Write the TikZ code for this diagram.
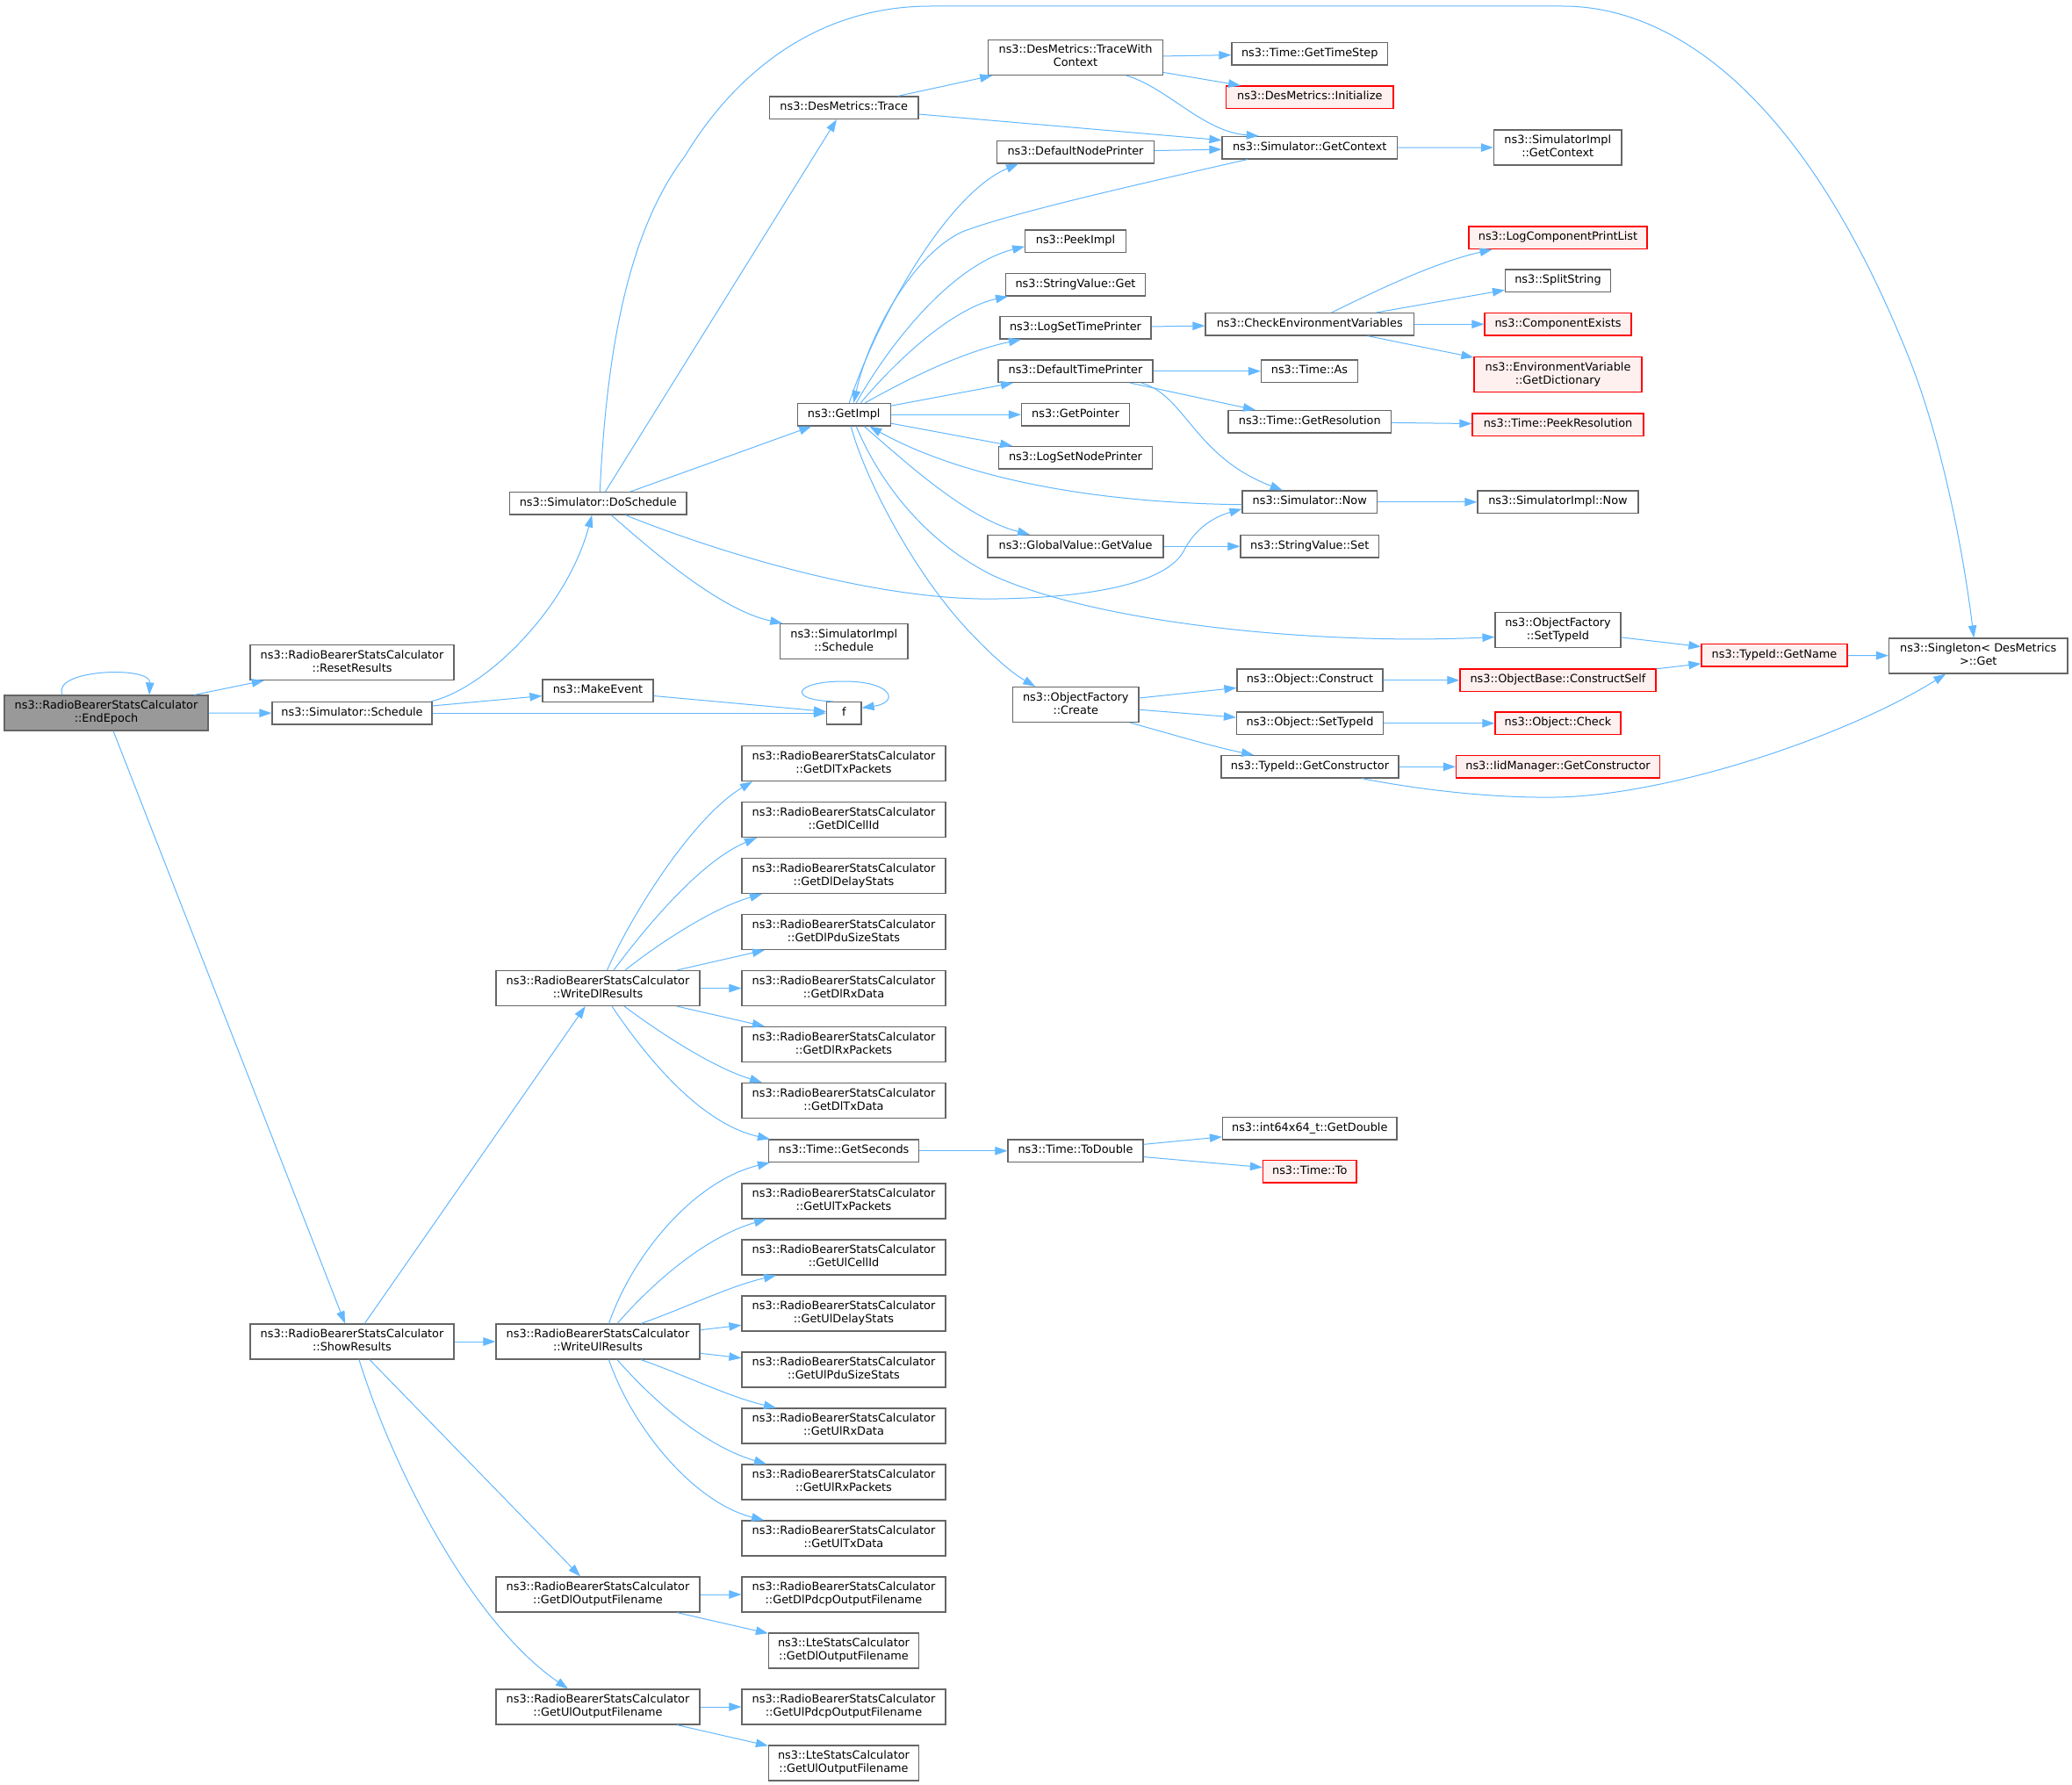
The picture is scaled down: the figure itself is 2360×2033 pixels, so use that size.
\documentclass[tikz,border=0pt]{standalone}
\usepackage{fontspec}
\newfontfamily\dvs{DejaVu Sans}
\usetikzlibrary{arrows.meta}
\definecolor{edgec}{HTML}{63B8FF}
\definecolor{boxc}{HTML}{666666}
\definecolor{rootf}{HTML}{999999}
\definecolor{redf}{HTML}{FFF0F0}
\definecolor{redc}{HTML}{FF0000}
\newcommand\bx[7][]{\node[box,#1,minimum width={(#5)-(#3)},minimum height={(#6)-(#4)}] (#2) at ({((#3)+(#5))/2},{((#4)+(#6))/2}) {#7};}
\newcommand\RB{ns3::RadioBearerStatsCalculator}
\tikzset{
 box/.style={draw=boxc, fill=white, line width=1.2pt, inner sep=0pt, align=center, font=\dvs\fontsize{12.85}{15}\selectfont},
 rbox/.style={draw=redc, fill=redf},
 root/.style={fill=rootf},
 conn/.style={draw=edgec, line width=1.0pt, -{Triangle[length=14pt,width=9.5pt]}}
}
\begin{document}
\begin{tikzpicture}[x=1pt,y=-1pt]
\fill[white] (0,0) rectangle (2360,2033);
\useasboundingbox (0,0) rectangle (2360,2033);
% nodes
\bx[root]{EndEpoch}{5}{792}{237}{832}{\strut\RB\\\strut ::EndEpoch}
\bx{ResetResults}{285}{734.5}{517}{774.5}{\strut\RB\\\strut ::ResetResults}
\bx{Schedule}{310}{799.5}{492}{825}{\strut ns3::Simulator::Schedule}
\bx{MakeEvent}{618}{774}{744}{799.5}{\strut ns3::MakeEvent}
\bx{f}{941.5}{799.5}{981}{825}{\strut f}
\bx{DoSchedule}{580.5}{560.5}{782}{586}{\strut ns3::Simulator::DoSchedule}
\bx{SimImplSchedule}{888.5}{710.5}{1034}{750.5}{\strut ns3::SimulatorImpl\\\strut ::Schedule}
\bx{Trace}{876.5}{110}{1046}{135.5}{\strut ns3::DesMetrics::Trace}
\bx{TWC}{1125.5}{45.5}{1324.5}{85.5}{\strut ns3::DesMetrics::TraceWith\\\strut Context}
\bx{GetTimeStep}{1403}{48.5}{1580.5}{74}{\strut ns3::Time::GetTimeStep}
\bx[rbox]{Initialize}{1396.5}{98}{1587}{123.5}{\strut ns3::DesMetrics::Initialize}
\bx{GetContext}{1392}{155.5}{1591.5}{181}{\strut ns3::Simulator::GetContext}
\bx{DNP}{1135.5}{160.5}{1314.5}{186}{\strut ns3::DefaultNodePrinter}
\bx{SIGetContext}{1701.5}{148}{1847}{188}{\strut ns3::SimulatorImpl\\\strut ::GetContext}
\bx{PeekImpl}{1167.75}{262}{1282.25}{287.5}{\strut ns3::PeekImpl}
\bx{SVGet}{1145.5}{311.5}{1304.5}{337}{\strut ns3::StringValue::Get}
\bx{LSTP}{1139}{360.5}{1311}{386}{\strut ns3::LogSetTimePrinter}
\bx{CheckEnv}{1373}{356.5}{1610.5}{382}{\strut ns3::CheckEnvironmentVariables}
\bx[rbox]{LCPL}{1673}{258}{1876}{283.5}{\strut ns3::LogComponentPrintList}
\bx{SplitString}{1714.5}{307}{1834.5}{332.5}{\strut ns3::SplitString}
\bx[rbox]{CompExists}{1691}{356.5}{1858}{382}{\strut ns3::ComponentExists}
\bx[rbox]{EnvDict}{1679}{406.5}{1870}{446.5}{\strut ns3::EnvironmentVariable\\\strut ::GetDictionary}
\bx{DTP}{1137}{410}{1313}{435.5}{\strut ns3::DefaultTimePrinter}
\bx{TimeAs}{1436.5}{410}{1546.5}{435.5}{\strut ns3::Time::As}
\bx{GetImpl}{908.25}{459.5}{1014.25}{485}{\strut ns3::GetImpl}
\bx{GetPointer}{1163.5}{459.5}{1286.5}{485}{\strut ns3::GetPointer}
\bx{GetRes}{1399}{467.5}{1584.5}{493}{\strut ns3::Time::GetResolution}
\bx[rbox]{PeekRes}{1677}{471}{1872}{496.5}{\strut ns3::Time::PeekResolution}
\bx{LSNP}{1137.5}{508.5}{1312.5}{534}{\strut ns3::LogSetNodePrinter}
\bx{SimNow}{1415}{559}{1568.5}{584.5}{\strut ns3::Simulator::Now}
\bx{SINow}{1683}{559}{1866}{584.5}{\strut ns3::SimulatorImpl::Now}
\bx{GVGV}{1125}{609.5}{1325}{635}{\strut ns3::GlobalValue::GetValue}
\bx{SVSet}{1413}{609.5}{1570.5}{635}{\strut ns3::StringValue::Set}
\bx{OFSetTypeId}{1703}{697.5}{1846}{737.5}{\strut ns3::ObjectFactory\\\strut ::SetTypeId}
\bx{Create}{1153.5}{782.5}{1297}{822.5}{\strut ns3::ObjectFactory\\\strut ::Create}
\bx{ObjConstruct}{1409}{762}{1575}{787.5}{\strut ns3::Object::Construct}
\bx{ObjSetTypeId}{1408.5}{811}{1575.5}{836.5}{\strut ns3::Object::SetTypeId}
\bx{GetCtor}{1391}{860.5}{1593}{886}{\strut ns3::TypeId::GetConstructor}
\bx[rbox]{GetName}{1938}{733.5}{2104}{759}{\strut ns3::TypeId::GetName}
\bx{Singleton}{2151.5}{727}{2355}{767}{\strut ns3::Singleton< DesMetrics\\\strut >::Get}
\bx[rbox]{ConstructSelf}{1663}{762}{1886}{787.5}{\strut ns3::ObjectBase::ConstructSelf}
\bx[rbox]{ObjCheck}{1703}{811}{1846}{836.5}{\strut ns3::Object::Check}
\bx[rbox]{IidCtor}{1658.5}{860.5}{1890.5}{886}{\strut ns3::IidManager::GetConstructor}
\bx{ToDouble}{1148}{1298}{1302}{1323.5}{\strut ns3::Time::ToDouble}
\bx{I64}{1392.5}{1272.5}{1591}{1298}{\strut ns3::int64x64\_t::GetDouble}
\bx[rbox]{TimeTo}{1438.5}{1321.5}{1545}{1347}{\strut ns3::Time::To}
\bx{WDR}{565}{1105.5}{797}{1145.5}{\strut\RB\\\strut ::WriteDlResults}
\bx{GDTP}{845}{849.5}{1077}{889.5}{\strut\RB\\\strut ::GetDlTxPackets}
\bx{GDCI}{845}{913.5}{1077}{953.5}{\strut\RB\\\strut ::GetDlCellId}
\bx{GDDS}{845}{977.5}{1077}{1017.5}{\strut\RB\\\strut ::GetDlDelayStats}
\bx{GDPS}{845}{1041.5}{1077}{1081.5}{\strut\RB\\\strut ::GetDlPduSizeStats}
\bx{GDRD}{845}{1105.5}{1077}{1145.5}{\strut\RB\\\strut ::GetDlRxData}
\bx{GDRP}{845}{1169.5}{1077}{1209.5}{\strut\RB\\\strut ::GetDlRxPackets}
\bx{GDTD}{845}{1233.5}{1077}{1273.5}{\strut\RB\\\strut ::GetDlTxData}
\bx{GetSeconds}{875.5}{1298}{1046.5}{1323.5}{\strut ns3::Time::GetSeconds}
\bx{GUTP}{845}{1348}{1077}{1388}{\strut\RB\\\strut ::GetUlTxPackets}
\bx{GUCI}{845}{1412}{1077}{1452}{\strut\RB\\\strut ::GetUlCellId}
\bx{GUDS}{845}{1476}{1077}{1516}{\strut\RB\\\strut ::GetUlDelayStats}
\bx{GUPS}{845}{1540}{1077}{1580}{\strut\RB\\\strut ::GetUlPduSizeStats}
\bx{GURD}{845}{1604}{1077}{1644}{\strut\RB\\\strut ::GetUlRxData}
\bx{GURP}{845}{1668}{1077}{1708}{\strut\RB\\\strut ::GetUlRxPackets}
\bx{GUTD}{845}{1732}{1077}{1772}{\strut\RB\\\strut ::GetUlTxData}
\bx{WUR}{565}{1508}{797}{1548}{\strut\RB\\\strut ::WriteUlResults}
\bx{ShowResults}{285}{1508}{517}{1548}{\strut\RB\\\strut ::ShowResults}
\bx{GDOF}{565}{1796}{797}{1836}{\strut\RB\\\strut ::GetDlOutputFilename}
\bx{GDPO}{845}{1796}{1077}{1836}{\strut\RB\\\strut ::GetDlPdcpOutputFilename}
\bx{LDOF}{875.5}{1860}{1046.5}{1900}{\strut ns3::LteStatsCalculator\\\strut ::GetDlOutputFilename}
\bx{GUOF}{565}{1924}{797}{1964}{\strut\RB\\\strut ::GetUlOutputFilename}
\bx{GUPO}{845}{1924}{1077}{1964}{\strut\RB\\\strut ::GetUlPdcpOutputFilename}
\bx{LUOF}{875.5}{1988}{1046.5}{2028}{\strut ns3::LteStatsCalculator\\\strut ::GetUlOutputFilename}
% edges
\draw[conn] ([xshift=-50]EndEpoch.north) .. controls (58,762) and (172,758) .. ([xshift=49]EndEpoch.north);
\draw[conn] (EndEpoch) -- (ResetResults);
\draw[conn] (EndEpoch) -- (Schedule);
\draw[conn] (EndEpoch) -- (ShowResults);
\draw[conn] ([xshift=-2]Schedule.north east) .. controls (552,785) and (645,695) .. ([xshift=-7]DoSchedule.south);
\draw[conn] (Schedule) -- (MakeEvent);
\draw[conn] (Schedule) -- (f);
\draw[conn] (MakeEvent) -- (f);
\draw[conn] ([xshift=8]f.north west) .. controls (895,797) and (905,776) .. (961,776) .. controls (1017,776) and (1025,800) .. ([yshift=6]f.east);
\draw[conn] ([xshift=2]DoSchedule.north) .. controls (690,420) and (710,270) .. (780,178) .. controls (830,95) and (920,7) .. (1060,7) -- (1780,7) .. controls (1900,7) and (2050,100) .. (2172,402) .. controls (2210,495) and (2235,620) .. ([xshift=-5]Singleton.north);
\draw[conn] (DoSchedule) -- (Trace);
\draw[conn] (DoSchedule) -- (GetImpl);
\draw[conn] ([xshift=31]DoSchedule.south) .. controls (820,630) and (1000,685) .. (1137,682) .. controls (1260,680) and (1330,660) .. (1348,628) .. controls (1362,600) and (1385,588) .. ([yshift=-8]SimNow.west);
\draw[conn] ([xshift=15]DoSchedule.south) .. controls (740,625) and (820,695) .. ([xshift=-70]SimImplSchedule.north);
\draw[conn] (Trace) -- (TWC);
\draw[conn] (Trace) -- (GetContext);
\draw[conn] (TWC) -- (GetTimeStep);
\draw[conn] (TWC) -- (Initialize);
\draw[conn] ([xshift=58]TWC.south) .. controls (1330,100) and (1370,150) .. ([xshift=-58]GetContext.north);
\draw[conn] (DNP) -- (GetContext);
\draw[conn] (GetContext) -- (SIGetContext);
\draw[conn] ([xshift=-71]GetContext.south) .. controls (1300,209) and (1150,243) .. (1096,264) .. controls (1040,290) and (990,380) .. ([xshift=11]GetImpl.north);
\draw[conn] ([xshift=6]GetImpl.north) .. controls (1000,360) and (1080,220) .. ([xshift=-65]DNP.south);
\draw[conn] ([xshift=14]GetImpl.north) .. controls (1020,380) and (1090,300) .. ([yshift=-6]PeekImpl.west);
\draw[conn] ([xshift=19]GetImpl.north) .. controls (1030,400) and (1090,350) .. ([xshift=-77]SVGet.south);
\draw[conn] ([xshift=24]GetImpl.north) .. controls (1040,428) and (1100,400) .. ([xshift=-62]LSTP.south);
\draw[conn] (GetImpl) -- (DTP);
\draw[conn] (GetImpl) -- (GetPointer);
\draw[conn] (GetImpl) -- (LSNP);
\draw[conn] ([xshift=23]GetImpl.south) .. controls (1030,525) and (1100,590) .. ([xshift=-52]GVGV.north);
\draw[conn] ([xshift=14]GetImpl.south) .. controls (1000,545) and (1050,615) .. (1130,655) .. controls (1250,710) and (1500,735) .. ([yshift=-8]OFSetTypeId.west);
\draw[conn] ([xshift=8]GetImpl.south) .. controls (985,545) and (1040,650) .. (1100,715) .. controls (1125,742) and (1150,765) .. ([xshift=-46]Create.north);
\draw[conn] ([yshift=-3]SimNow.west) .. controls (1200,572) and (1070,530) .. ([xshift=29]GetImpl.south);
\draw[conn] (LSTP) -- (CheckEnv);
\draw[conn] ([xshift=25]CheckEnv.north) .. controls (1560,335) and (1630,300) .. ([xshift=-75]LCPL.south);
\draw[conn] (CheckEnv) -- (SplitString);
\draw[conn] (CheckEnv) -- (CompExists);
\draw[conn] (CheckEnv) -- (EnvDict);
\draw[conn] (DTP) -- (TimeAs);
\draw[conn] (DTP) -- (GetRes);
\draw[conn] ([xshift=75]DTP.south) .. controls (1350,450) and (1360,520) .. ([xshift=-31]SimNow.north);
\draw[conn] (GetRes) -- (PeekRes);
\draw[conn] (SimNow) -- (SINow);
\draw[conn] (GVGV) -- (SVSet);
\draw[conn] (OFSetTypeId) -- (GetName);
\draw[conn] (GetName) -- (Singleton);
\draw[conn] (Create) -- (ObjConstruct);
\draw[conn] (Create) -- (ObjSetTypeId);
\draw[conn] ([xshift=62]Create.south) .. controls (1330,835) and (1380,850) .. ([xshift=-64]GetCtor.north);
\draw[conn] (ObjConstruct) -- (ConstructSelf);
\draw[conn] (ConstructSelf) -- (GetName);
\draw[conn] (ObjSetTypeId) -- (ObjCheck);
\draw[conn] (GetCtor) -- (IidCtor);
\draw[conn] ([xshift=59]GetCtor.south) .. controls (1620,900) and (1700,909) .. (1772,908) .. controls (1900,906) and (2100,840) .. ([xshift=-37]Singleton.south);
\draw[conn] (ShowResults) -- (WDR);
\draw[conn] (ShowResults) -- (WUR);
\draw[conn] (ShowResults) -- (GDOF);
\draw[conn] ([xshift=8]ShowResults.south) .. controls (450,1680) and (540,1850) .. ([xshift=-34]GUOF.north);
\draw[conn] ([xshift=10.5]WDR.north) .. controls (720,1040) and (790,930) .. ([xshift=-104]GDTP.south);
\draw[conn] ([xshift=18]WDR.north) .. controls (740,1050) and (800,980) .. ([xshift=-99]GDCI.south);
\draw[conn] ([xshift=31]WDR.north) .. controls (750,1075) and (810,1035) .. ([xshift=-93]GDDS.south);
\draw[conn] (WDR) -- (GDPS);
\draw[conn] (WDR) -- (GDRD);
\draw[conn] (WDR) -- (GDRP);
\draw[conn] ([xshift=30]WDR.south) .. controls (750,1175) and (810,1215) .. ([xshift=-93]GDTD.north);
\draw[conn] ([xshift=16]WDR.south) .. controls (740,1210) and (800,1280) .. ([xshift=2]GetSeconds.north west);
\draw[conn] ([xshift=12.5]WUR.north) .. controls (720,1430) and (790,1345) .. ([xshift=2]GetSeconds.south west);
\draw[conn] ([xshift=22]WUR.north) .. controls (740,1465) and (800,1410) .. ([xshift=-88]GUTP.south);
\draw[conn] ([xshift=49]WUR.north) .. controls (780,1490) and (830,1465) .. ([xshift=-77]GUCI.south);
\draw[conn] (WUR) -- (GUDS);
\draw[conn] (WUR) -- (GUPS);
\draw[conn] ([xshift=49]WUR.south) .. controls (780,1566) and (830,1591) .. ([xshift=-77]GURD.north);
\draw[conn] ([xshift=22]WUR.south) .. controls (740,1591) and (800,1646) .. ([xshift=-88]GURP.north);
\draw[conn] ([xshift=12.5]WUR.south) .. controls (720,1626) and (790,1711) .. ([xshift=-91]GUTD.north);
\draw[conn] (GetSeconds) -- (ToDouble);
\draw[conn] (ToDouble) -- (I64);
\draw[conn] (ToDouble) -- (TimeTo);
\draw[conn] (GDOF) -- (GDPO);
\draw[conn] (GDOF) -- (LDOF);
\draw[conn] (GUOF) -- (GUPO);
\draw[conn] (GUOF) -- (LUOF);
\end{tikzpicture}
\end{document}
